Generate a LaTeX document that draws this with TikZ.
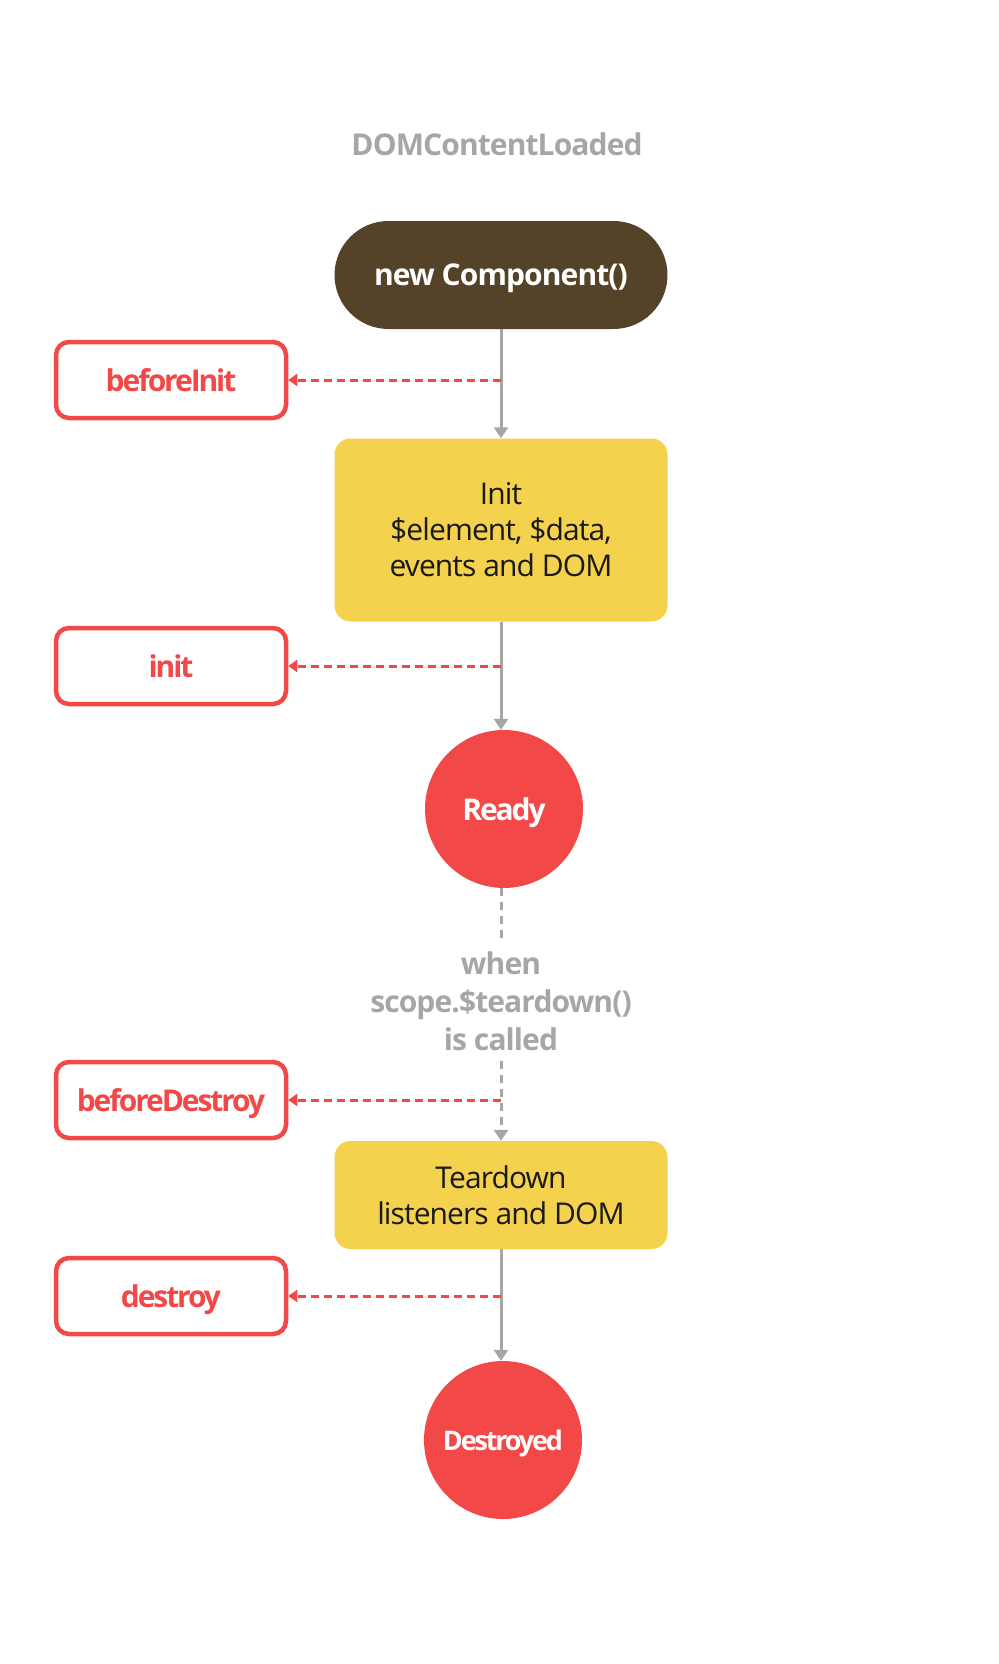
\documentclass[tikz,border=0pt]{standalone}
\usepackage{fontspec}
\setmainfont{Open Sans}[LetterSpace=-3]
\newfontfamily\tightfont{Open Sans}[LetterSpace=-7]
\newfontfamily\tighterfont{Open Sans}[LetterSpace=-8]
\usepackage{xcolor}
\usetikzlibrary{arrows.meta, positioning, calc}

\definecolor{hookred}{HTML}{F24848}
\definecolor{flowgray}{HTML}{A6A6A6}
\definecolor{stageyellow}{HTML}{F5D24E}
\definecolor{startbrown}{HTML}{544328}

\begin{document}
\begin{tikzpicture}[x=1pt, y=-1pt,
	hook/.style={draw=hookred, line width=4.5pt, rounded corners=13pt, fill=white,
		minimum width=230pt, minimum height=76pt, text=hookred, text depth=0pt,
		font=\fontsize{30}{34}\tightfont\bfseries},
	stage/.style={fill=stageyellow, rounded corners=16pt, minimum width=333pt,
		align=center, font=\fontsize{30}{36}\selectfont, text=black!90},
	state/.style={circle, fill=hookred, minimum size=158pt, inner sep=0pt, text=white,
		text depth=0pt, font=\fontsize{30}{34}\tightfont\bfseries},
	flow/.style={draw=flowgray, line width=3pt, -{Triangle[width=14pt,length=11pt]}},
	hookline/.style={draw=hookred, line width=3pt, dash pattern=on 8pt off 5pt,
		-{Triangle[width=12pt,length=9pt]}},
	]
	\useasboundingbox (0,0) rectangle (998,1664);

	\node[text=flowgray, font=\fontsize{30}{34}\selectfont\bfseries] (dom) at (497,144) {DOMContentLoaded};
	\node[fill=startbrown, rounded corners=54pt, minimum width=333pt, minimum height=108pt,
		text=white, text depth=0pt, font=\fontsize{30}{34}\selectfont\bfseries] (newcomp) at (501,275) {new Component()};
	\node[stage, minimum height=183pt] (init) at (501,530) {Init\\\$element, \$data,\\events and DOM};
	\node[state] (ready) at (504,809) {Ready};
	\node[text=flowgray, align=center, font=\fontsize{30}{38}\selectfont\bfseries, inner sep=10pt]
		(when) at (501,1001) {when\\scope.\$teardown()\\is called};
	\node[stage, minimum height=108pt] (teardown) at (501,1195) {Teardown\\listeners and DOM};
	\node[state, font=\fontsize{27}{30}\tighterfont\bfseries] (destroyed) at (503,1440) {Destroyed};

	% lifecycle hooks
	\node[hook] (beforeinit) at (171,380) {beforeInit};
	\node[hook] (inithook) at (171,666) {init};
	\node[hook] (beforedestroy) at (171,1100) {beforeDestroy};
	\node[hook] (destroyhook) at (171,1296) {destroy};

	\path[flow] (newcomp) -- (init);
	\path[flow] (init) -- (init |- ready.north);
	\path[draw=flowgray, line width=3pt, dash pattern=on 8pt off 6pt] (ready.south -| when) -- (when);
	\path[flow, dash pattern=on 8pt off 6pt] (when) -- (teardown);
	\path[flow] (teardown) -- (teardown |- destroyed.north);

	\path[hookline] (beforeinit -| newcomp) -- (beforeinit);
	\path[hookline] (inithook -| init) -- (inithook);
	\path[hookline] (beforedestroy -| teardown) -- (beforedestroy);
	\path[hookline] (destroyhook -| teardown) -- (destroyhook);
\end{tikzpicture}
\end{document}
